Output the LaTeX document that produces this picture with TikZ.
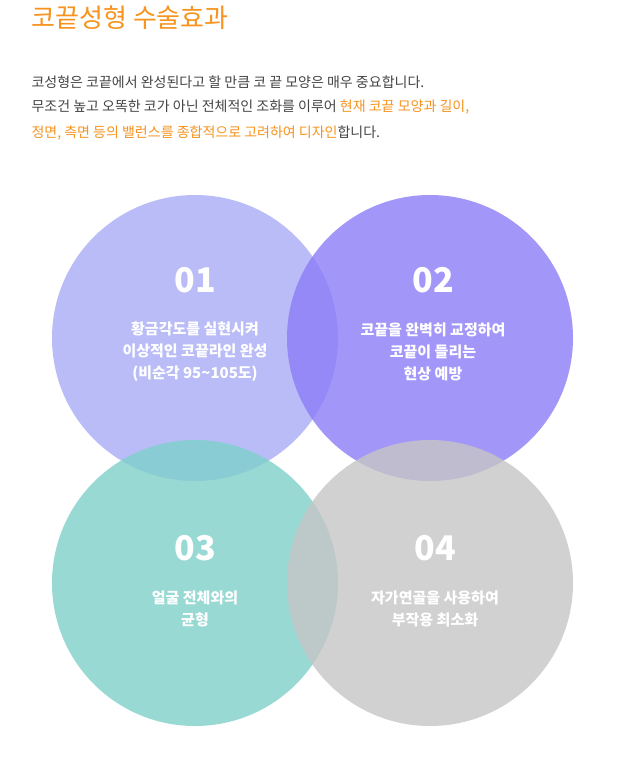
\documentclass[tikz,border=0pt]{standalone}
\usepackage{fontspec}
\setmainfont{Noto Sans CJK KR}
\definecolor{titleorange}{HTML}{F7931E}
\definecolor{bodygray}{HTML}{444444}
\definecolor{circA}{HTML}{A9ACF6}
\definecolor{circB}{HTML}{8C7CF8}
\definecolor{circC}{HTML}{7FD0CA}
\definecolor{circD}{HTML}{C6C6C6}
\tikzset{
  bubble/.style={circle, minimum size=286pt, inner sep=0pt, fill opacity=0.8},
  bignum/.style={text=white, font=\bfseries\fontsize{34}{34}\selectfont},
  bubbletext/.style={text=white, align=center, font=\bfseries\fontsize{15}{22}\selectfont},
  bodyline/.style={anchor=west, text=bodygray, font=\fontsize{14}{14}\selectfont}
}
\begin{document}
\begin{tikzpicture}[x=1pt,y=-1pt]
    \useasboundingbox[fill=white] (0,0) rectangle (640,763);

    % title and intro
    \node[anchor=west, text=titleorange, font=\fontsize{26}{26}\selectfont] (title) at (28,18) {코끝성형 수술효과};
    \node[bodyline] (lineA) at (28,82) {코성형은 코끝에서 완성된다고 할 만큼 코 끝 모양은 매우 중요합니다.};
    \node[bodyline] (lineB) at (28,107) {무조건 높고 오똑한 코가 아닌 전체적인 조화를 이루어 \textcolor{titleorange}{현재 코끝 모양과 길이,}};
    \node[bodyline] (lineC) at (28,133) {\textcolor{titleorange}{정면, 측면 등의 밸런스를 종합적으로 고려하여 디자인}합니다.};

    % circles
    \node[bubble, fill=circA] (c1) at (195,338) {};
    \node[bubble, fill=circB] (c2) at (430,338) {};
    \node[bubble, fill=circC] (c3) at (195,583) {};
    \node[bubble, fill=circD] (c4) at (430,583) {};

    % labels
    \node[bignum] (n1) at (195,280) {01};
    \node[bubbletext] (t1) at (195,352) {황금각도를 실현시켜\\이상적인 코끝라인 완성\\(비순각 95\textasciitilde105도)};
    \node[bignum] (n2) at (433,280) {02};
    \node[bubbletext] (t2) at (433,352) {코끝을 완벽히 교정하여\\코끝이 들리는\\현상 예방};
    \node[bignum] (n3) at (195,548) {03};
    \node[bubbletext] (t3) at (195,609) {얼굴 전체와의\\균형};
    \node[bignum] (n4) at (435,548) {04};
    \node[bubbletext] (t4) at (435,609) {자가연골을 사용하여\\부작용 최소화};
\end{tikzpicture}
\end{document}
